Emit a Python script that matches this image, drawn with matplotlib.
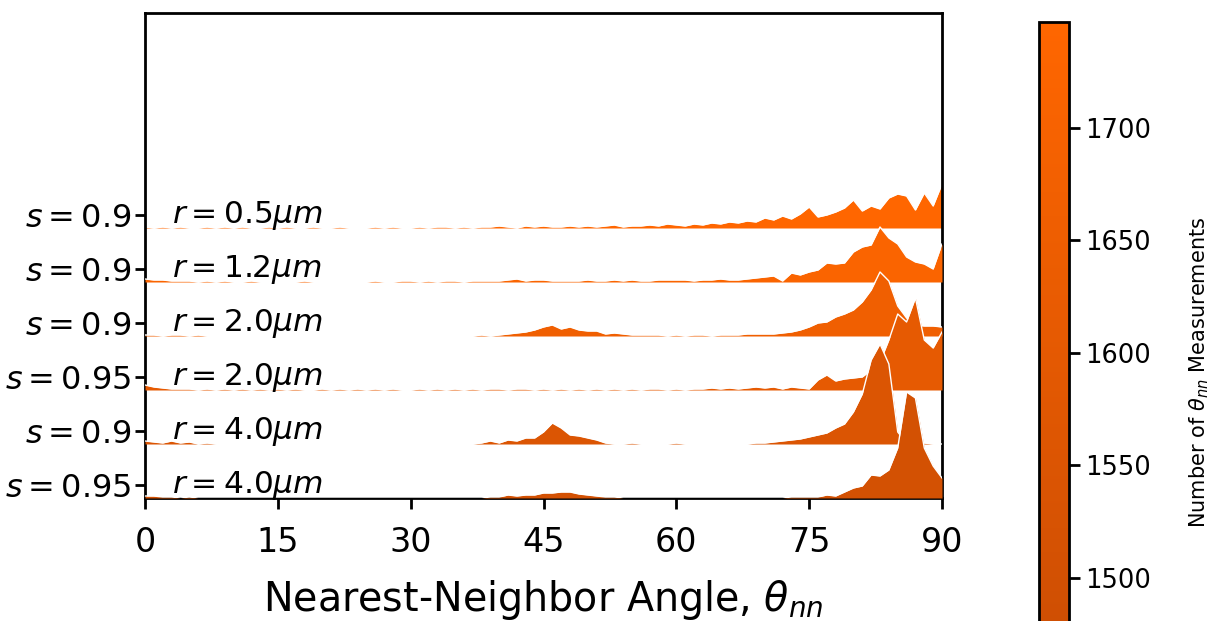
import numpy as np
import matplotlib
matplotlib.use("Agg")
import matplotlib.pyplot as plt
from matplotlib.colors import LinearSegmentedColormap, Normalize

# angle bins (degrees) and histogram heights for each (s, r) condition, top row first
angles = np.arange(0, 91)

s_labels = ['0.9', '0.9', '0.9', '0.95', '0.9', '0.95']
r_labels = ['0.5', '1.2', '2.0', '2.0', '4.0', '4.0']
n_meas = [1745, 1719, 1662, 1605, 1548, 1503]

h_s09_r05 = [1, 0, 1, 0, 1, 0, 0, 1, 0, 1,
             0, 1, 0, 0, 1, 0, 1, 0, 0, 1,
             0, 0, 1, 0, 0, 0, 1, 0, 1, 0,
             0, 1, 0, 1, 1, 0, 1, 0, 1, 1,
             2, 1, 0, 2, 1, 2, 1, 1, 2, 1,
             2, 1, 2, 3, 1, 2, 2, 3, 2, 4,
             3, 2, 4, 3, 5, 4, 6, 5, 7, 6,
             10, 8, 12, 9, 14, 21, 11, 13, 16, 20,
             28, 17, 22, 19, 30, 34, 32, 18, 35, 22,
             44]
h_s09_r12 = [3, 2, 2, 1, 1, 1, 0, 1, 0, 1,
             0, 0, 1, 0, 0, 0, 0, 0, 1, 0,
             0, 0, 0, 0, 0, 0, 1, 0, 0, 1,
             1, 0, 1, 0, 1, 1, 0, 1, 1, 1,
             1, 2, 3, 1, 2, 2, 1, 1, 1, 1,
             2, 1, 1, 2, 1, 2, 1, 1, 2, 2,
             2, 2, 1, 2, 2, 3, 2, 2, 3, 4,
             5, 6, 1, 9, 7, 10, 12, 19, 18, 19,
             30, 35, 37, 55, 44, 38, 25, 20, 18, 13,
             38]
h_s09_r20 = [1, 1, 0, 1, 1, 0, 1, 0, 0, 0,
             0, 0, 0, 0, 0, 0, 0, 0, 0, 0,
             0, 0, 0, 0, 0, 0, 0, 0, 0, 0,
             0, 0, 0, 0, 0, 0, 0, 0, 1, 0,
             1, 2, 3, 4, 6, 9, 11, 7, 9, 6,
             5, 5, 2, 3, 2, 1, 1, 1, 1, 0,
             1, 0, 1, 1, 0, 1, 1, 1, 2, 2,
             2, 2, 3, 4, 6, 9, 13, 14, 19, 22,
             26, 34, 46, 64, 55, 30, 18, 11, 10, 10,
             9]
h_s095_r20 = [5, 3, 2, 1, 1, 1, 0, 1, 0, 1,
              0, 1, 0, 1, 0, 1, 0, 1, 0, 0,
              1, 0, 1, 0, 1, 0, 1, 0, 1, 0,
              0, 1, 0, 1, 0, 1, 0, 1, 0, 1,
              1, 0, 1, 1, 0, 1, 0, 1, 0, 1,
              0, 1, 0, 1, 0, 1, 0, 1, 1, 0,
              1, 0, 1, 1, 2, 1, 2, 1, 2, 3,
              2, 3, 1, 3, 2, 1, 10, 15, 9, 11,
              12, 13, 20, 28, 50, 76, 68, 92, 50, 42,
              58]
h_s09_r40 = [3, 2, 1, 3, 1, 2, 0, 1, 0, 0,
             0, 0, 0, 0, 0, 0, 0, 0, 0, 0,
             0, 0, 0, 0, 0, 0, 0, 0, 0, 0,
             0, 0, 0, 0, 0, 0, 0, 0, 1, 3,
             1, 4, 3, 6, 6, 12, 21, 16, 9, 8,
             6, 4, 1, 0, 0, 1, 0, 0, 0, 0,
             1, 0, 0, 0, 0, 0, 0, 0, 0, 1,
             1, 2, 3, 4, 5, 7, 9, 11, 16, 20,
             32, 50, 84, 100, 80, 12, 1, 1, 1, 0,
             0]
h_s095_r40 = [2, 2, 1, 1, 0, 1, 0, 0, 0, 0,
              0, 0, 0, 0, 0, 0, 0, 0, 0, 0,
              0, 0, 0, 0, 0, 0, 0, 0, 0, 0,
              0, 0, 0, 0, 0, 0, 0, 0, 0, 1,
              1, 3, 2, 3, 3, 5, 5, 6, 6, 4,
              3, 2, 1, 1, 0, 0, 0, 0, 0, 0,
              0, 0, 0, 0, 0, 0, 0, 0, 0, 0,
              0, 0, 0, 1, 1, 1, 1, 3, 2, 6,
              10, 12, 23, 22, 28, 50, 106, 100, 50, 32,
              20]

heights = [h_s09_r05, h_s09_r12, h_s09_r20, h_s095_r20, h_s09_r40, h_s095_r40]

# colorbar runs past the bottom of the (cropped) figure
cmap = LinearSegmentedColormap.from_list('orng', ['#c74b04', '#ff6600'])
norm = Normalize(vmin=1436, vmax=1747)

spacing = 54
n_rows = len(heights)

fig = plt.figure(figsize=(12.12, 6.21), dpi=100)
ax = fig.add_axes([145 / 1212, 123 / 621, 797 / 1212, 485 / 621])

for i, h in enumerate(heights):
    base = (n_rows - 1 - i) * spacing
    h = np.asarray(h, dtype=float)
    c = cmap(norm(n_meas[i]))
    ax.fill_between(angles, base, base + h, color=c, lw=0, zorder=2 + i)
    ax.plot(angles, base + h, color='white', lw=1.0, zorder=2 + i)
    ax.text(3.1, base + 13, r'$r = %s \mu m$' % r_labels[i], fontsize=22.5,
            va='center', ha='left', zorder=20)

ax.set_xlim(0, 90)
ax.set_ylim(0, 485)
ax.set_xticks([0, 15, 30, 45, 60, 75, 90])
ax.set_yticks([(n_rows - 1 - i) * spacing + 13 for i in range(n_rows)])
ax.set_yticklabels([r'$s = %s$' % s for s in s_labels])
ax.tick_params(axis='x', labelsize=24, width=2, length=8, pad=12)
ax.tick_params(axis='y', labelsize=23, width=2, length=7, pad=3)
for sp in ax.spines.values():
    sp.set_linewidth(2)
ax.set_xlabel(r'Nearest-Neighbor Angle, $\theta_{nn}$', fontsize=28.5, labelpad=14)

cax = fig.add_axes([1039 / 1212, -101 / 621, 30 / 1212, 700 / 621])
sm = plt.cm.ScalarMappable(norm=norm, cmap=cmap)
cb = fig.colorbar(sm, cax=cax)
cb.set_ticks([1500, 1550, 1600, 1650, 1700])
cb.ax.tick_params(labelsize=18.5, width=2, length=8)
cb.outline.set_linewidth(2)
cb.set_label(r'Number of $\theta_{nn}$ Measurements', fontsize=15, labelpad=26)

fig.savefig('out.png', dpi=100)
